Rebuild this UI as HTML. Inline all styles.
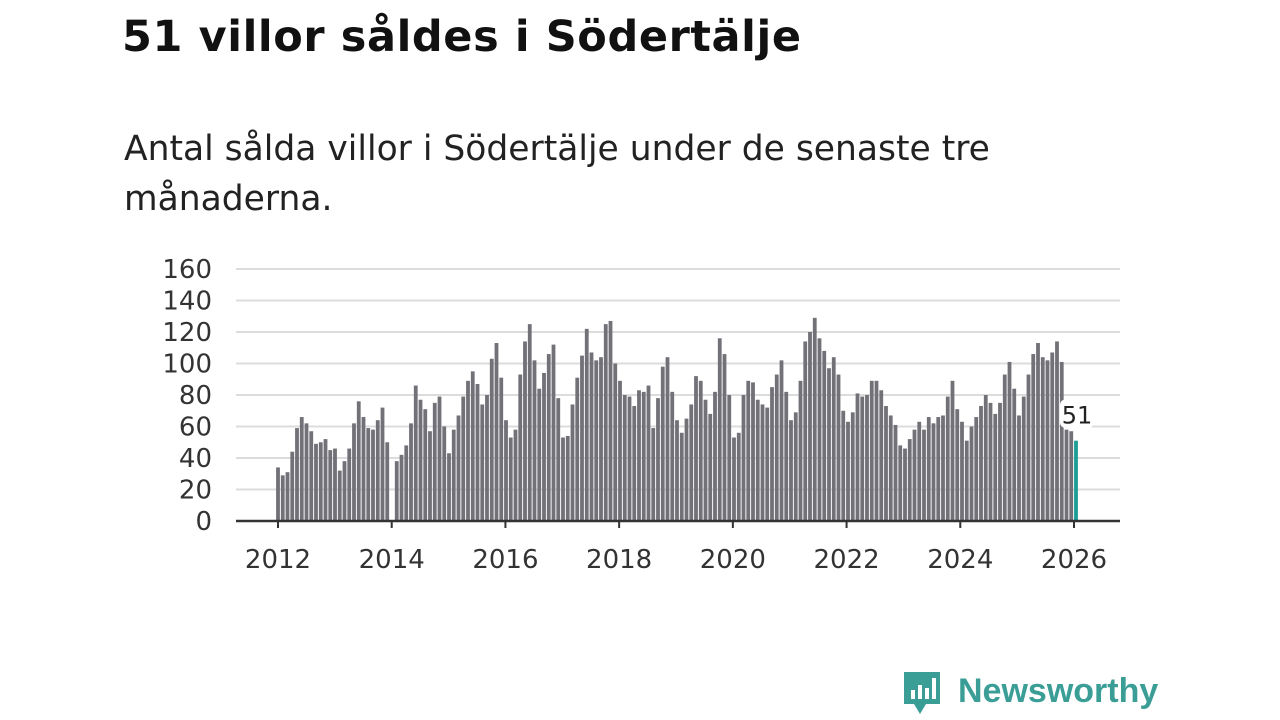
<!DOCTYPE html>
<html><head><meta charset="utf-8">
<style>
body{margin:0;width:1280px;height:720px;background:#fff;overflow:hidden;font-family:"DejaVu Sans","Liberation Sans",sans-serif;position:relative}
#title{position:absolute;left:122px;top:12px;font-size:43px;font-weight:bold;color:#111;margin:0;letter-spacing:0.6px}
#subtitle{position:absolute;left:124px;top:124px;font-size:34.5px;line-height:50px;color:#222;width:1000px;margin:0}
#logo{position:absolute;left:902px;top:670px;height:48px}
</style></head><body>
<h1 id="title">51 villor såldes i Södertälje</h1>
<p id="subtitle">Antal sålda villor i Södertälje under de senaste tre månaderna.</p>
<svg id="chart" width="1280" height="720" style="position:absolute;left:0;top:0"></svg>
<div id="logo">
<svg width="260" height="50" style="position:absolute;left:0;top:0">
<path d="M2 2 h36 v32 h-14 l-6 10 l-6 -10 h-10 z" fill="#3b9e96"/>
<rect x="9" y="20" width="4" height="9" fill="#fff"/><rect x="16" y="15" width="4" height="14" fill="#fff"/><rect x="23" y="18" width="4" height="11" fill="#fff"/><rect x="30" y="8" width="4" height="21" fill="#fff"/>
<text x="56" y="32" font-size="34" font-weight="bold" fill="#3b9e96" font-family="Liberation Sans, sans-serif">Newsworthy</text>
</svg></div>
<script>
const yTicks=[0,20,40,60,80,100,120,140,160];
const xTickYears=[2012,2014,2016,2018,2020,2022,2024,2026];
const values=[34,29,31,44,59,66,62,57,49,50,52,45,
46,32,38,46,62,76,66,59,58,64,72,50,
null,38,42,48,62,86,77,71,57,75,79,60,
43,58,67,79,89,95,87,74,80,103,113,91,
64,53,58,93,114,125,102,84,94,106,112,78,
53,54,74,91,105,122,107,102,104,125,127,100,
89,80,79,73,83,82,86,59,78,98,104,82,
64,56,65,74,92,89,77,68,82,116,106,80,
53,56,80,89,88,77,74,72,85,93,102,82,
64,69,89,114,120,129,116,108,97,104,93,70,
63,69,81,79,80,89,89,83,73,67,61,48,
46,52,58,63,58,66,62,66,67,79,89,71,
63,51,60,66,73,80,75,68,75,93,101,84,
67,79,93,106,113,104,102,107,114,101,58,57,
51];
const startYear=2012;
const svg=document.getElementById('chart');
const NS='http://www.w3.org/2000/svg';
const y0=521,yTop=269,xL=236,xR=1120;
function y(v){return y0-(v/160)*(y0-yTop);}
function xm(i){return 278+i*(1076-278)/(values.length-1);}
function xYear(yr){return 278+(yr-startYear)*12*(1074-278)/168;}
function el(t,a){const e=document.createElementNS(NS,t);for(const k in a)e.setAttribute(k,a[k]);svg.appendChild(e);return e;}
yTicks.forEach(t=>{
  if(t>0){const g=el('line',{x1:xL,x2:xR,y1:y(t),y2:y(t),stroke:'#dcdcdc','stroke-width':2});
  
  }
  const l=el('text',{x:212,y:y(t)+9,'text-anchor':'end','font-size':26,fill:'#333','font-family':'DejaVu Sans, sans-serif'});
  l.textContent=t;
  
  
});
values.forEach((v,i)=>{
  if(v==null)return;
  const last=i===values.length-1;
  const r=el('rect',{x:xm(i)-1.9,y:y(v),width:3.8,height:y0-y(v),fill:last?'#1a9e96':'#727178'});
  
  
});
const ax=el('line',{x1:xL,x2:xR,y1:y0,y2:y0,stroke:'#333','stroke-width':2.5});


xTickYears.forEach(yr=>{
  const x=xYear(yr);
  const tk=el('line',{x1:x,x2:x,y1:y0,y2:y0+7,stroke:'#333','stroke-width':2});
  
  
  const l=el('text',{x:x,y:568,'text-anchor':'middle','font-size':26,fill:'#333','font-family':'DejaVu Sans, sans-serif'});
  l.textContent=yr;
  
  
});
const li=values.length-1;
const bg=el('rect',{x:xm(li)-16,y:y(values[li])-41,width:34,height:28,rx:5,fill:'#fff'});


const vl=el('text',{x:xm(li)+1,y:y(values[li])-17,'text-anchor':'middle','font-size':24,fill:'#222','font-family':'DejaVu Sans, sans-serif'});
vl.textContent=values[li];


</script>
</body></html>
